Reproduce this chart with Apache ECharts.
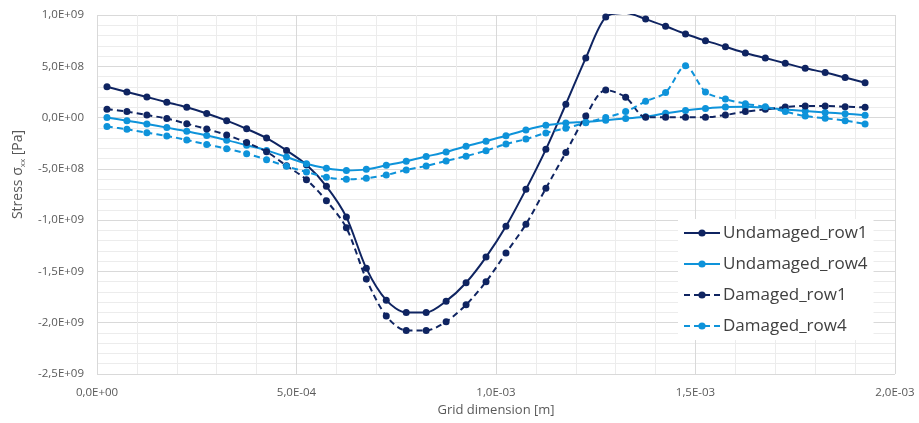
<!DOCTYPE html>
<html>
<head>
<meta charset="utf-8">
<script src="https://cdn.jsdelivr.net/npm/echarts@6/dist/echarts.min.js"></script>
<style>
  html, body { margin: 0; padding: 0; background: #ffffff; }
  #chart { width: 919px; height: 423px; }
</style>
</head>
<body>
<div id="chart"></div>
<script>
// Grid positions along the row [m]
const gridX = [
  2.5e-5, 7.5e-5, 1.25e-4, 1.75e-4, 2.25e-4, 2.75e-4, 3.25e-4, 3.75e-4, 4.25e-4, 4.75e-4,
  5.25e-4, 5.75e-4, 6.25e-4, 6.75e-4, 7.25e-4, 7.75e-4, 8.25e-4, 8.75e-4, 9.25e-4, 9.75e-4,
  1.025e-3, 1.075e-3, 1.125e-3, 1.175e-3, 1.225e-3, 1.275e-3, 1.325e-3, 1.375e-3, 1.425e-3, 1.475e-3,
  1.525e-3, 1.575e-3, 1.625e-3, 1.675e-3, 1.725e-3, 1.775e-3, 1.825e-3, 1.875e-3, 1.925e-3
];

// Stress sigma_xx [Pa]
const undamagedRow1 = [
  3.0e8, 2.5e8, 2.0e8, 1.5e8, 1.0e8, 0.4e8, -0.3e8, -1.1e8, -2.0e8, -3.2e8,
  -4.6e8, -6.7e8, -9.7e8, -14.7e8, -17.8e8, -19.0e8, -19.0e8, -17.9e8, -16.1e8, -13.6e8,
  -10.6e8, -7.0e8, -3.1e8, 1.3e8, 5.8e8, 9.8e8, 10.2e8, 9.6e8, 8.9e8, 8.15e8,
  7.5e8, 6.9e8, 6.3e8, 5.8e8, 5.3e8, 4.8e8, 4.4e8, 3.9e8, 3.4e8
];
const undamagedRow4 = [
  0.0, -0.3e8, -0.62e8, -0.98e8, -1.33e8, -1.75e8, -2.2e8, -2.7e8, -3.2e8, -3.85e8,
  -4.5e8, -4.95e8, -5.15e8, -5.05e8, -4.65e8, -4.25e8, -3.8e8, -3.35e8, -2.8e8, -2.3e8,
  -1.78e8, -1.21e8, -0.75e8, -0.52e8, -0.42e8, -0.25e8, -0.08e8, 0.08e8, 0.42e8, 0.7e8,
  0.88e8, 1.02e8, 1.06e8, 0.95e8, 0.78e8, 0.64e8, 0.5e8, 0.38e8, 0.23e8
];
const damagedRow1 = [
  0.82e8, 0.58e8, 0.25e8, -0.1e8, -0.6e8, -1.12e8, -1.7e8, -2.44e8, -3.33e8, -4.7e8,
  -6.05e8, -8.1e8, -10.75e8, -15.75e8, -19.35e8, -20.75e8, -20.75e8, -19.9e8, -18.25e8, -16.0e8,
  -13.2e8, -10.4e8, -6.9e8, -3.4e8, 0.16e8, 2.69e8, 1.98e8, 0.03e8, 0.03e8, 0.03e8,
  0.03e8, 0.25e8, 0.58e8, 0.8e8, 1.03e8, 1.13e8, 1.13e8, 1.06e8, 1.0e8
];
const damagedRow4 = [
  -0.88e8, -1.14e8, -1.47e8, -1.79e8, -2.18e8, -2.62e8, -3.03e8, -3.52e8, -4.1e8, -4.75e8,
  -5.3e8, -5.82e8, -6.02e8, -5.92e8, -5.6e8, -5.1e8, -4.72e8, -4.23e8, -3.76e8, -3.23e8,
  -2.58e8, -2.1e8, -1.5e8, -1.04e8, -0.5e8, 0.0, 0.58e8, 1.58e8, 2.44e8, 5.05e8,
  2.5e8, 1.8e8, 1.35e8, 1.05e8, 0.58e8, 0.15e8, -0.07e8, -0.3e8, -0.62e8
];

const seriesNames = ['Undamaged_row1', 'Undamaged_row4', 'Damaged_row1', 'Damaged_row4'];

const NAVY = '#0f2461';
const SKY = '#0e93da';
const FONT = '"Open Sans", "Noto Sans", sans-serif';
const TEXT = '#595959';

// Scientific notation with a decimal comma, e.g. 1,5E-03
function sci(v) {
  if (Math.abs(v) < 1e-30) return '0,0E+00';
  let e = Math.floor(Math.log10(Math.abs(v)) + 1e-9);
  let m = v / Math.pow(10, e);
  if (Math.abs(m) >= 9.95) { m /= 10; e += 1; }
  const sign = e < 0 ? '-' : '+';
  const ee = String(Math.abs(e)).padStart(2, '0');
  return m.toFixed(1).replace('.', ',') + 'E' + sign + ee;
}

function pairs(ys) { return gridX.map((x, i) => [x, ys[i]]); }

function makeSeries(name, ys, color, dashed) {
  return {
    name: name,
    type: 'line',
    data: pairs(ys),
    smooth: 0.3,
    clip: true,
    symbol: 'circle',
    symbolSize: 7,
    itemStyle: { color: color },
    lineStyle: { color: color, width: 2, type: dashed ? [6, 4] : 'solid' },
    emphasis: { disabled: true },
    z: dashed ? 3 : 2
  };
}

const chart = echarts.init(document.getElementById('chart'), null, { renderer: 'canvas' });

chart.setOption({
  animation: false,
  backgroundColor: '#ffffff',
  grid: { left: 97, right: 24, top: 15, bottom: 49 },
  xAxis: {
    type: 'value',
    min: 0,
    max: 2e-3,
    interval: 5e-4,
    name: 'Grid dimension [m]',
    nameLocation: 'middle',
    nameGap: 29,
    nameTextStyle: { fontFamily: FONT, fontSize: 13, color: TEXT },
    axisLine: { show: false },
    axisTick: { show: false },
    axisLabel: { fontFamily: FONT, fontSize: 11.5, color: TEXT, margin: 13, formatter: sci },
    splitLine: { show: true, lineStyle: { color: '#d9d9d9', width: 1 } },
    minorTick: { show: false, splitNumber: 5 },
    minorSplitLine: { show: true, lineStyle: { color: '#ececec', width: 1 } }
  },
  yAxis: {
    type: 'value',
    min: -2.5e9,
    max: 1e9,
    interval: 5e8,
    name: '{a|Stress σ}{b|xx}{a| [Pa]}',
    nameLocation: 'middle',
    nameGap: 70,
    nameRotate: 90,
    nameTextStyle: {
      fontFamily: FONT, color: TEXT,
      padding: [0, 0, 0, 40],
      rich: {
        a: { fontFamily: FONT, fontSize: 14, color: TEXT, lineHeight: 18 },
        b: { fontFamily: FONT, fontSize: 8, color: TEXT, lineHeight: 18, verticalAlign: 'bottom', padding: [6, 0, 0, 0] }
      }
    },
    axisLine: { show: false },
    axisTick: { show: false },
    axisLabel: { fontFamily: FONT, fontSize: 11.5, color: TEXT, margin: 13, formatter: sci },
    splitLine: { show: true, lineStyle: { color: '#d9d9d9', width: 1 } },
    minorTick: { show: false, splitNumber: 5 },
    minorSplitLine: { show: true, lineStyle: { color: '#ececec', width: 1 } }
  },
  legend: {
    show: true,
    orient: 'vertical',
    left: 678,
    top: 219,
    padding: [5, 6, 5, 5],
    backgroundColor: '#ffffff',
    itemWidth: 36,
    itemHeight: 9,
    itemGap: 13,
    itemStyle: { borderWidth: 0 },
    textStyle: { fontFamily: FONT, fontSize: 17, lineHeight: 18, color: '#404040', padding: [0, 0, 0, -2] },
    data: seriesNames,
    selectedMode: false
  },
  series: [
    makeSeries(seriesNames[0], undamagedRow1, NAVY, false),
    makeSeries(seriesNames[1], undamagedRow4, SKY, false),
    makeSeries(seriesNames[2], damagedRow1, NAVY, true),
    makeSeries(seriesNames[3], damagedRow4, SKY, true)
  ]
});
</script>
</body>
</html>
